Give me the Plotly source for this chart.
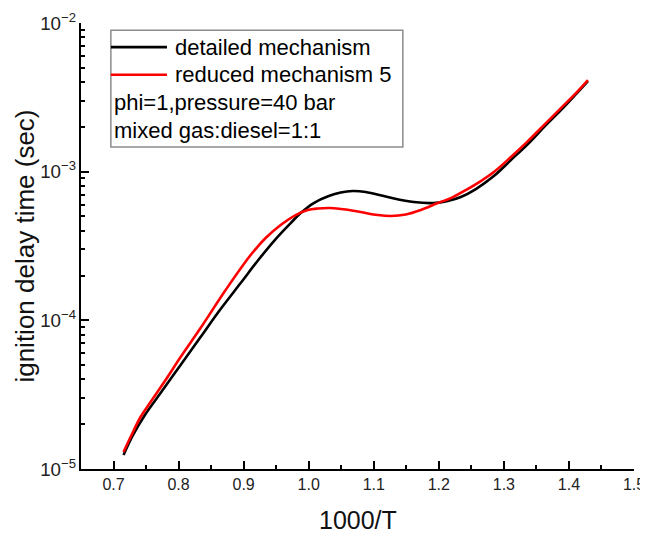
"""
Ignition delay time vs 1000/T: detailed mechanism against reduced mechanism 5
(phi=1, 40 bar, mixed gas:diesel = 1:1), log y axis, Origin-style frame.
"""
import plotly.graph_objects as go

DETAILED_X = [0.7154, 0.7292, 0.7492, 0.7723, 0.8031, 0.8338, 0.8646, 0.8954,
              0.9262, 0.9492, 0.9723, 0.9877, 1.0077, 1.0308, 1.0492, 1.0677,
              1.0877, 1.1215, 1.1615, 1.1923, 1.2138, 1.2338, 1.2569, 1.2846,
              1.3108, 1.3369, 1.3646, 1.3877, 1.4108, 1.4292]
DETAILED_Y = [1.242e-5, 1.667e-5, 2.344e-5, 3.244e-5, 5.005e-5, 7.721e-5, 1.191e-4,
              1.782e-4, 2.666e-4, 3.522e-4, 4.511e-4, 5.267e-4, 6.150e-4, 6.855e-4,
              7.237e-4, 7.406e-4, 7.292e-4, 6.749e-4, 6.247e-4, 6.150e-4, 6.344e-4,
              6.749e-4, 7.638e-4, 9.342e-4, 1.197e-3, 1.533e-3, 2.058e-3, 2.597e-3,
              3.325e-3, 4.068e-3]

REDUCED_X = [0.7154, 0.7262, 0.7415, 0.7569, 0.7800, 0.8031, 0.8338, 0.8723,
             0.9108, 0.9338, 0.9569, 0.9800, 0.9985, 1.0138, 1.0338, 1.0569,
             1.0800, 1.1062, 1.1262, 1.1492, 1.1723, 1.1985, 1.2185, 1.2415,
             1.2646, 1.2846, 1.3108, 1.3369, 1.3646, 1.3877, 1.4108, 1.4292]
REDUCED_Y = [1.301e-5, 1.641e-5, 2.237e-5, 2.822e-5, 3.967e-5, 5.664e-5, 8.876e-5,
             1.599e-4, 2.749e-4, 3.577e-4, 4.374e-4, 5.106e-4, 5.518e-4, 5.648e-4,
             5.692e-4, 5.561e-4, 5.350e-4, 5.106e-4, 5.028e-4, 5.146e-4, 5.518e-4,
             6.150e-4, 6.645e-4, 7.522e-4, 8.646e-4, 9.938e-4, 1.254e-3, 1.606e-3,
             2.123e-3, 2.678e-3, 3.377e-3, 4.130e-3]

SERIES = [
    ("detailed mechanism", DETAILED_X, DETAILED_Y, "#000000"),
    ("reduced mechanism 5", REDUCED_X, REDUCED_Y, "#ff0000"),
]
NOTES = ["phi=1,pressure=40 bar", "mixed gas:diesel=1:1"]

X_TICKS = [0.7, 0.8, 0.9, 1.0, 1.1, 1.2, 1.3, 1.4, 1.5]
X_RANGE = [0.65, 1.5]
Y_RANGE_LOG = [-5, -2]

FONT = "Liberation Sans, Arial, sans-serif"
# The page body adds an 8px margin, so the figure is 8px short of the window.
W, H = 640, 526

fig = go.Figure()
for name, xs, ys, color in SERIES:
    fig.add_trace(go.Scatter(
        x=xs, y=ys, mode="lines", name=name,
        line=dict(color=color, width=2.6, shape="spline", smoothing=1.0),
        showlegend=False,
    ))

# Hand-built legend box (paper coords), as in the Origin figure.
BOX = dict(x0=0.054, x1=0.582, y0=0.722, y1=0.984)
fig.add_shape(type="rect", xref="paper", yref="paper", **BOX,
              line=dict(color="#8c8c8c", width=1.5), fillcolor="rgba(0,0,0,0)")
row_y = [0.946, 0.884, 0.821, 0.760]
for (name, _, _, color), ry in zip(SERIES, row_y):
    fig.add_shape(type="line", xref="paper", yref="paper",
                  x0=0.054, x1=0.1555, y0=ry, y1=ry,
                  line=dict(color=color, width=2.6))
    fig.add_annotation(xref="paper", yref="paper", x=0.166, y=ry, text=name,
                       showarrow=False, xanchor="left", yanchor="middle",
                       font=dict(size=22, color="#000000", family=FONT))
for note, ry in zip(NOTES, row_y[2:]):
    fig.add_annotation(xref="paper", yref="paper", x=0.056, y=ry, text=note,
                       showarrow=False, xanchor="left", yanchor="middle",
                       font=dict(size=22, color="#000000", family=FONT))

# Axis titles placed by hand so the plot frame keeps its fixed margins.
fig.add_annotation(xref="paper", yref="paper", x=-0.102, y=0.5,
                   text="ignition delay time (sec)", textangle=-90,
                   showarrow=False, xanchor="center", yanchor="middle",
                   font=dict(size=26, color="#111111", family=FONT))
fig.add_annotation(xref="paper", yref="paper", x=0.5, y=-0.114,
                   text="1000/T", showarrow=False,
                   xanchor="center", yanchor="middle",
                   font=dict(size=25, color="#111111", family=FONT))

fig.update_xaxes(
    range=X_RANGE, tickvals=X_TICKS, tickformat=".1f", automargin=False,
    showline=True, linecolor="black", linewidth=2, mirror=False,
    ticks="inside", ticklen=8, tickwidth=2, tickcolor="black",
    minor=dict(ticks="inside", ticklen=4, tickwidth=2, tickcolor="black",
               dtick=0.05, tick0=0.65, showgrid=False),
    showgrid=False, zeroline=False,
    tickfont=dict(size=16, color="#222222", family=FONT),
)
fig.update_yaxes(
    type="log", range=Y_RANGE_LOG, dtick=1, exponentformat="power",
    automargin=False,
    showline=True, linecolor="black", linewidth=2, mirror=False,
    ticks="inside", ticklen=8, tickwidth=2, tickcolor="black",
    minor=dict(ticks="inside", ticklen=4, tickwidth=2, tickcolor="black",
               dtick="D1", showgrid=False),
    showgrid=False, zeroline=False,
    tickfont=dict(size=15, color="#222222", family=FONT),
)

fig.update_layout(
    width=W, height=H,
    margin=dict(l=73, r=14, t=15, b=65),
    plot_bgcolor="white", paper_bgcolor="white",
    font=dict(family=FONT),
)

fig.write_html("out.html")
